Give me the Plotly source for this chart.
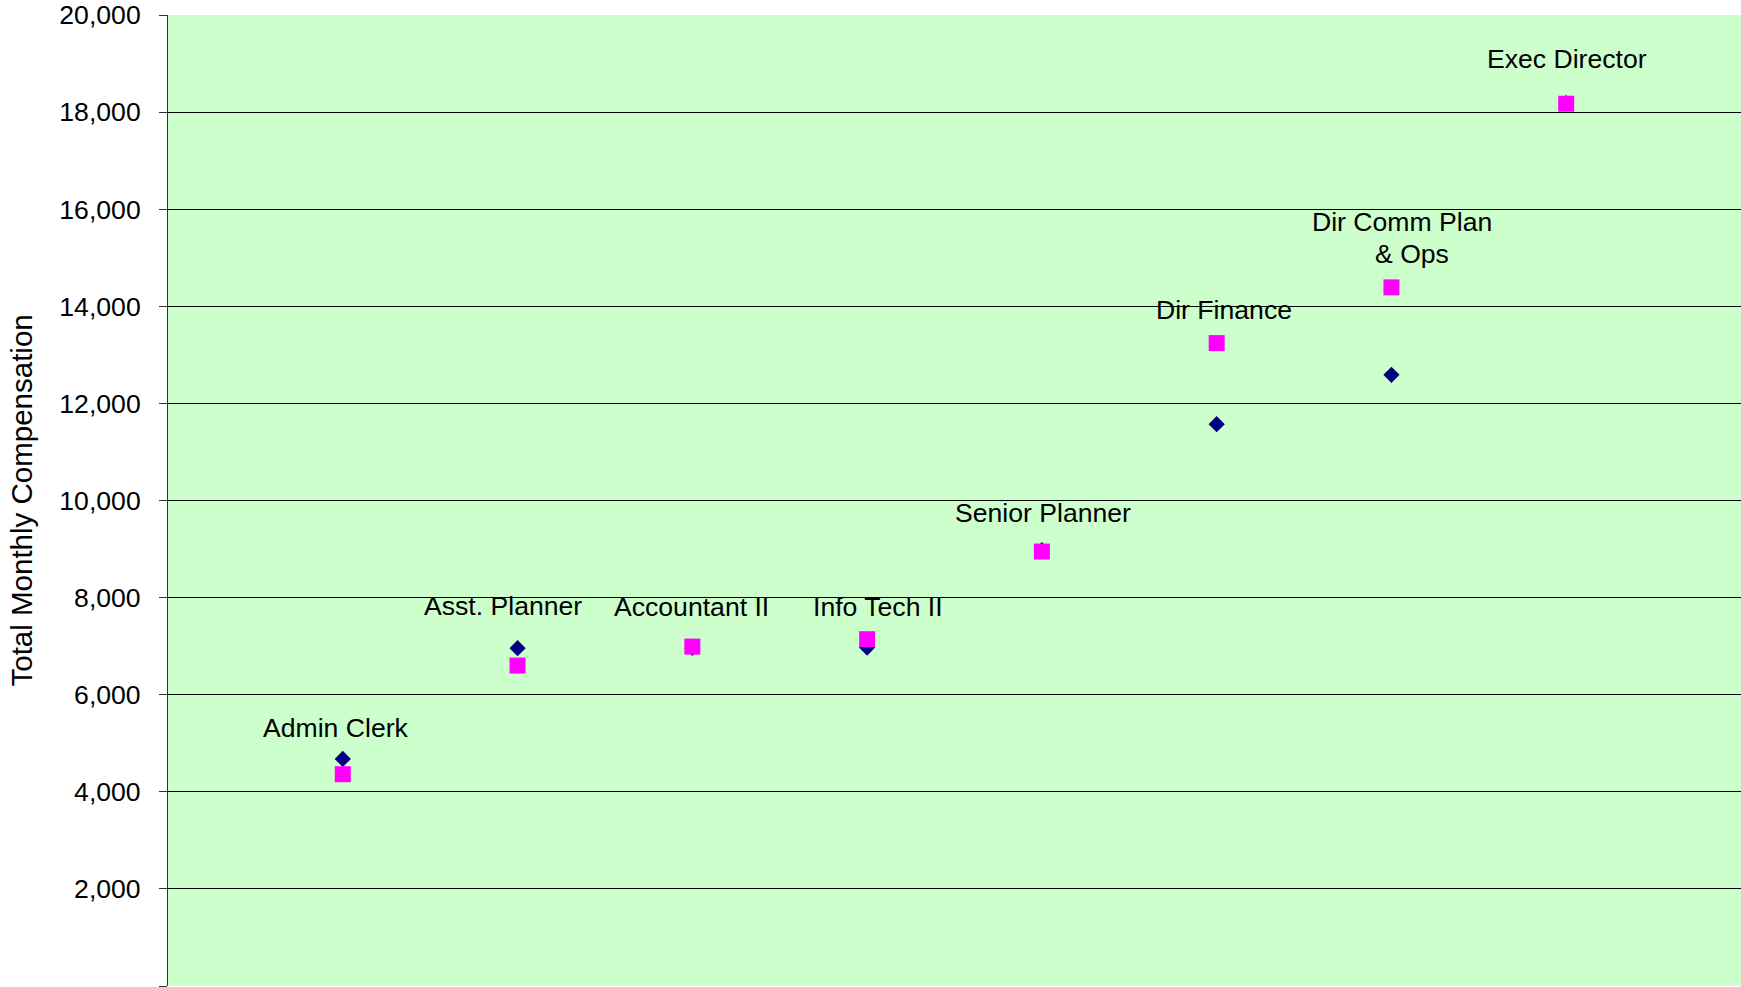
import plotly.graph_objects as go

# ---- data ----
positions = ["Admin Clerk", "Asst. Planner", "Accountant II", "Info Tech II",
             "Senior Planner", "Dir Finance", "Dir Comm Plan & Ops", "Exec Director"]
x_index = [1, 2, 3, 4, 5, 6, 7, 8]
series_diamond = [4677, 6958, 6964, 6970, 8977, 11573, 12589, 18185]
series_square = [4362, 6600, 6991, 7143, 8948, 13242, 14390, 18172]
y_tickvals = [0, 2000, 4000, 6000, 8000, 10000, 12000, 14000, 16000, 18000, 20000]
y_ticktext = ["", "2,000", "4,000", "6,000", "8,000", "10,000",
              "12,000", "14,000", "16,000", "18,000", "20,000"]
zero_label = "-"
label_lines = [["Admin Clerk"], ["Asst. Planner"], ["Accountant II"], ["Info Tech II"],
               ["Senior Planner"], ["Dir Finance"], ["Dir Comm Plan", "& Ops"], ["Exec Director"]]

# ---- label pixel offsets (style) relative to square marker ----
label_offsets = [[(-7, 46)], [(-15, 60)], [(-1, 40)], [(11, 32)], [(1, 39)], [(7, 33)],
                 [(11, 65), (21, 33)], [(1, 45)]]

FONT = "Liberation Sans, Arial, sans-serif"
FS = 26.6

fig = go.Figure()
fig.add_trace(go.Scatter(
    x=x_index, y=series_diamond, mode="markers",
    marker=dict(symbol="diamond", size=12.5, color="#000080", line=dict(width=0)),
    showlegend=False, hoverinfo="skip"))
fig.add_trace(go.Scatter(
    x=x_index, y=series_square, mode="markers",
    marker=dict(symbol="square", size=16, color="#FF00FF", line=dict(width=0)),
    showlegend=False, hoverinfo="skip"))

annotations = []
for xi, yv, lines, offs in zip(x_index, series_square, label_lines, label_offsets):
    for line, (dx, dy) in zip(lines, offs):
        annotations.append(dict(
            x=xi, y=yv, xref="x", yref="y", text=line, showarrow=False,
            xanchor="center", yanchor="middle", xshift=dx, yshift=dy,
            font=dict(family=FONT, size=FS, color="black")))

annotations.append(dict(
    x=-147 / 1573, y=0.5, xref="paper", yref="paper",
    text="Total Monthly Compensation", showarrow=False, textangle=-90,
    xanchor="center", yanchor="middle",
    font=dict(family=FONT, size=29.5, color="black")))

# zero tick label (accounting-style dash)
annotations.append(dict(
    x=-64 / 1573, y=y_tickvals[0], xref="paper", yref="y",
    text=zero_label, showarrow=False, xanchor="center", yanchor="middle",
    font=dict(family=FONT, size=FS, color="black")))

fig.update_layout(
    width=1741, height=987,
    margin=dict(l=168, r=0, t=15, b=1, autoexpand=False),
    paper_bgcolor="white", plot_bgcolor="#CCFFCC",
    font=dict(family=FONT, size=FS, color="black"),
    annotations=annotations,
    hovermode=False,
    xaxis=dict(range=[0, 9], showgrid=False, zeroline=False, showticklabels=False,
               ticks="", showline=False, automargin=False),
    yaxis=dict(range=[0, 20000], tickvals=y_tickvals, ticktext=y_ticktext,
               showgrid=True, gridcolor="black", gridwidth=1, zeroline=False,
               showline=True, linecolor="#333333", linewidth=1,
               ticks="outside", ticklen=8, tickcolor="#333333", automargin=False,
               ticklabelstandoff=13,
               tickfont=dict(family=FONT, size=FS, color="black")),
)

fig.write_html("out.html",
               config={"displayModeBar": False},
               post_script="document.body.style.margin='0px';document.body.style.overflow='hidden';")
